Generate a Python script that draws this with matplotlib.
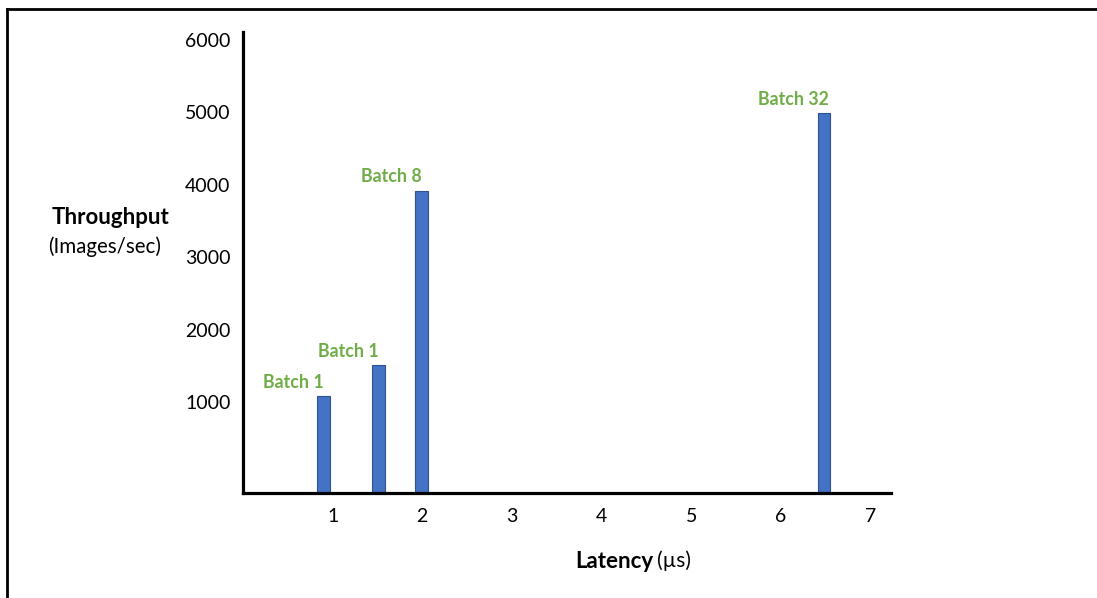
import matplotlib
matplotlib.use("Agg")
import matplotlib.pyplot as plt
from matplotlib.lines import Line2D

plt.rcParams['font.family'] = ['Lato', 'DejaVu Sans']

# data
latency = [0.90, 1.51, 1.99, 6.48]
throughput = [1080, 1510, 3920, 4990]
batch_labels = ["Batch 1", "Batch 1", "Batch 8", "Batch 32"]
y_ticks = [1000, 2000, 3000, 4000, 5000, 6000]
x_ticks = [1, 2, 3, 4, 5, 6, 7]
y_floor = -255  # the x axis sits a bit below the 0 level in the original

W, H = 1097, 598
fig = plt.figure(figsize=(W / 100, H / 100), dpi=100)

# axes box in pixels: left 243, right 891, top 32, bottom 493
ax = fig.add_axes([243 / W, 1 - 493 / H, (891 - 243) / W, (493 - 32) / H])

heights = [t - y_floor for t in throughput]
ax.bar(latency, heights, bottom=y_floor, width=0.14,
       color='#4472C4', edgecolor='#2F528F', linewidth=0.8, zorder=2)

for x, y, lab in zip(latency, throughput, batch_labels):
    ax.annotate(lab, (x, y), xytext=(-30, 14), textcoords='offset pixels',
                ha='center', va='center', color='#70AD47',
                fontsize=12.8, fontweight='bold')

ax.set_xlim(0, 7.23)
ax.set_ylim(y_floor, 6110)
ax.set_xticks(x_ticks)
ax.set_yticks(y_ticks)
ax.tick_params(axis='both', length=0, labelsize=14, colors='#000000')
ax.tick_params(axis='x', pad=11)
ax.tick_params(axis='y', pad=9)

for side in ['top', 'right']:
    ax.spines[side].set_visible(False)
for side in ['left', 'bottom']:
    ax.spines[side].set_linewidth(2.3)
    ax.spines[side].set_color('black')

# axis titles
fig.text(110 / W, 1 - 218 / H, "Throughput", ha='center', va='center',
         fontsize=16, fontweight='bold')
fig.text(105 / W, 1 - 247 / H, "(Images/sec)", ha='center', va='center',
         fontsize=14.8)
fig.text(653 / W, 1 - 561 / H, "Latency", ha='right', va='center',
         fontsize=16, fontweight='bold')
fig.text(657 / W, 1 - 561 / H, "(\u00b5s)", ha='left', va='center',
         fontsize=15)

# frame lines at top and left of the picture
fig.add_artist(Line2D([7 / W, 7 / W], [0, 1 - 9 / H], transform=fig.transFigure,
                      color='black', linewidth=2))
fig.add_artist(Line2D([7 / W, 1], [1 - 9 / H, 1 - 9 / H], transform=fig.transFigure,
                      color='black', linewidth=2))

fig.savefig("out.png", dpi=100)
